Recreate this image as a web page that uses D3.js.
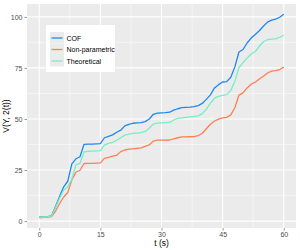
<!DOCTYPE html>
<html lang="en">
<head>
<meta charset="UTF-8">
<title>V(Y, 2(t))</title>
<script src="https://d3js.org/d3.v7.min.js"></script>
<style>
  body { margin: 0; background: #fff; }
  text { font-family: "Liberation Sans", Arial, sans-serif; }
</style>
</head>
<body>
<script>
// time points (s)
var times = d3.range(0, 61);

var cof = [2.1, 2.1, 2.2, 2.5, 7.2, 12, 16.8, 19.5, 28, 30.5, 31.5, 37.6, 37.7, 37.7, 37.8, 37.9,
  40.8, 41.5, 42.2, 43.5, 44.5, 46.6, 47.3, 47.9, 48.1, 48.2, 48.7, 50, 52.3, 52.9, 53,
  53.1, 53.3, 54.3, 55, 55.5, 55.7, 55.8, 56, 56.5, 57.6, 59.6, 61.8, 65.2, 66.8, 68.1,
  68.3, 70.4, 75.5, 82.8, 84, 87.2, 89.6, 91.4, 93.2, 95.4, 97.4, 98.4, 98.9, 99.8, 101.3];

var nonParam = [1.6, 1.8, 2.0, 2.2, 4.8, 8.6, 11.8, 14, 20.2, 23.9, 24.9, 28.2, 28.3, 28.3, 28.4, 28.5,
  30.7, 31.2, 31.8, 32.2, 34, 34.8, 35.2, 35.4, 35.6, 35.8, 36.6, 37.3, 39.2, 39.6, 39.6,
  39.6, 39.7, 40.3, 40.8, 41.2, 41.2, 41.3, 41.4, 41.8, 43, 45.2, 47.4, 49, 49.9, 50.5,
  50.8, 52, 55.5, 61.7, 62.8, 65.2, 67, 68, 69.6, 70.9, 72.5, 73.4, 73.7, 74.2, 75.4];

var theoretical = [1.9, 2.0, 2.1, 2.4, 6.7, 11.2, 15.2, 16.8, 20.5, 27.6, 28.3, 33.9, 34.2, 34.3, 34.4, 34.5,
  37.2, 38, 38.5, 39.6, 40.8, 42.1, 42.6, 42.9, 43.1, 43.3, 43.9, 45.5, 47.5, 48, 48.1,
  48.2, 48.3, 49.5, 50.3, 50.5, 50.8, 51, 51.2, 51.5, 52.6, 54.8, 57.7, 60.2, 61.1, 61.6,
  61.9, 64, 68.5, 75.2, 77.6, 79.8, 81.8, 83, 85.6, 87.8, 88.8, 89.1, 89.2, 90, 91];

var seriesNames = ["COF", "Non-parametric", "Theoretical"];
var seriesColors = ["#1e88f0", "#ff7f50", "#76eec6"];
var xTicks = [0, 15, 30, 45, 60];
var yTicks = [0, 25, 50, 75, 100];

var series = [cof, nonParam, theoretical];

var W = 300, H = 250;
var margin = {top: 4, right: 4, bottom: 22, left: 27};
var width = W - margin.left - margin.right,
    height = H - margin.top - margin.bottom;

var svg = d3.select("body").append("svg")
    .attr("width", W)
    .attr("height", H);

var g = svg.append("g")
    .attr("transform", "translate(" + margin.left + "," + margin.top + ")");

// ggplot style expansion
var allY = d3.merge(series);
var yMin = d3.min(allY), yMax = d3.max(allY);
var yPad = (yMax - yMin) * 0.05;
var x = d3.scaleLinear().domain([-3, 63]).range([0, width]);
var y = d3.scaleLinear().domain([yMin - yPad, yMax + yPad]).range([height, 0]);

// panel
g.append("rect")
    .attr("width", width)
    .attr("height", height)
    .attr("fill", "#ebebeb");

// minor grid
var xMinor = [7.5, 22.5, 37.5, 52.5];
var yMinor = [12.5, 37.5, 62.5, 87.5];
g.selectAll(".xminor").data(xMinor).enter().append("line")
    .attr("x1", d => x(d)).attr("x2", d => x(d))
    .attr("y1", 0).attr("y2", height)
    .attr("stroke", "#fff").attr("stroke-width", 0.5);
g.selectAll(".yminor").data(yMinor).enter().append("line")
    .attr("x1", 0).attr("x2", width)
    .attr("y1", d => y(d)).attr("y2", d => y(d))
    .attr("stroke", "#fff").attr("stroke-width", 0.5);

// major grid
g.selectAll(".xmajor").data(xTicks).enter().append("line")
    .attr("x1", d => x(d)).attr("x2", d => x(d))
    .attr("y1", 0).attr("y2", height)
    .attr("stroke", "#fff").attr("stroke-width", 1.1);
g.selectAll(".ymajor").data(yTicks).enter().append("line")
    .attr("x1", 0).attr("x2", width)
    .attr("y1", d => y(d)).attr("y2", d => y(d))
    .attr("stroke", "#fff").attr("stroke-width", 1.1);

// lines
var line = d3.line()
    .x(function(d, i) { return x(times[i]); })
    .y(function(d) { return y(d); });

series.forEach(function(values, i) {
  g.append("path")
      .attr("d", line(values))
      .attr("fill", "none")
      .attr("stroke", seriesColors[i])
      .attr("stroke-width", 1.3)
      .attr("stroke-linejoin", "round");
});

// axes
var xAxis = g.append("g")
    .attr("transform", "translate(0," + height + ")")
    .call(d3.axisBottom(x).tickValues(xTicks).tickSize(2.5).tickPadding(2));
var yAxis = g.append("g")
    .call(d3.axisLeft(y).tickValues(yTicks).tickSize(2.5).tickPadding(2));

[xAxis, yAxis].forEach(function(a) {
  a.select(".domain").remove();
  a.selectAll(".tick line").attr("stroke", "#333").attr("stroke-width", 0.5);
  a.selectAll(".tick text")
      .attr("fill", "#4d4d4d")
      .style("font-size", "7px")
      .style("font-family", "Liberation Sans, Arial, sans-serif");
});

// axis titles
svg.append("text")
    .attr("x", margin.left + width / 2)
    .attr("y", 246)
    .attr("text-anchor", "middle")
    .style("font-size", "8.5px")
    .attr("fill", "#000")
    .text("t (s)");

svg.append("text")
    .attr("transform", "translate(9," + (margin.top + height / 2) + ") rotate(-90)")
    .attr("text-anchor", "middle")
    .style("font-size", "8.5px")
    .attr("fill", "#000")
    .text("V(Y, 2(t))");

// legend
var legend = svg.append("g").attr("transform", "translate(46,25)");
legend.append("rect")
    .attr("width", 69)
    .attr("height", 47)
    .attr("fill", "#fff");

var items = legend.selectAll(".item").data(seriesNames).enter().append("g")
    .attr("transform", function(d, i) { return "translate(4," + (7 + i * 11.5) + ")"; });
items.append("rect")
    .attr("width", 14).attr("height", 11.5)
    .attr("fill", "#ebebeb");
items.append("line")
    .attr("x1", 1.5).attr("x2", 12.5)
    .attr("y1", 6).attr("y2", 6)
    .attr("stroke", function(d, i) { return seriesColors[i]; })
    .attr("stroke-width", 1.3);
items.append("text")
    .attr("x", 16.5)
    .attr("y", 8.5)
    .style("font-size", "7px")
    .attr("fill", "#000")
    .text(function(d) { return d; });
</script>
</body>
</html>
